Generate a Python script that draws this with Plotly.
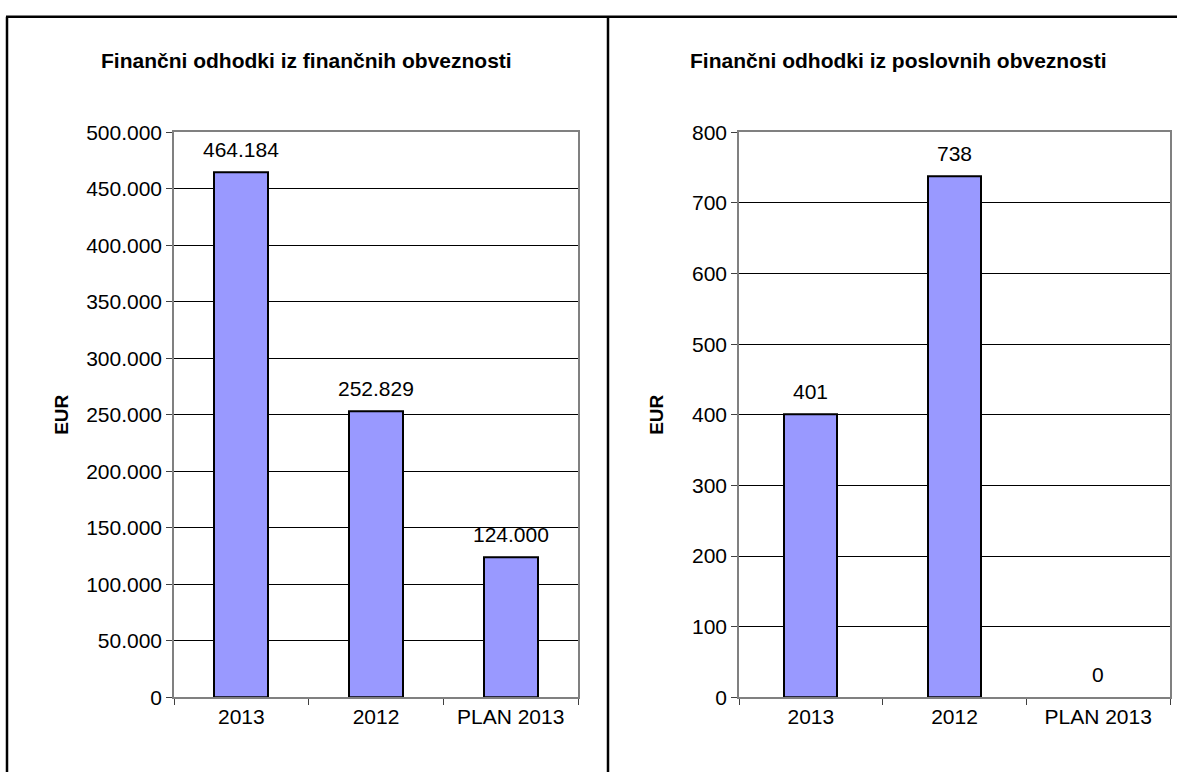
import plotly.graph_objects as go

categories = ["2013", "2012", "PLAN 2013"]
financne = [464184, 252829, 124000]
poslovne = [401, 738, 0]
title_left = "Finančni odhodki iz finančnih obveznosti"
title_right = "Finančni odhodki iz poslovnih obveznosti"
y_label = "EUR"

W, H = 1177, 783
FONT = "Liberation Sans, Arial, sans-serif"
FS = 21

def px(x):
    return x / W

def py(y):
    return 1 - y / H

def fmt(v):
    return f"{v:,.0f}".replace(",", ".")

fig = go.Figure()
for vals, xa, ya, bw in ((financne, "x", "y", 0.4), (poslovne, "x2", "y2", 0.37)):
    fig.add_trace(go.Bar(x=categories, y=vals, xaxis=xa, yaxis=ya, width=bw,
                         marker=dict(color="#9999FF",
                                     line=dict(color="black", width=[2 if v else 0 for v in vals])),
                         hoverinfo="x+y"))
    for i, v in enumerate(vals):
        fig.add_annotation(x=i, y=v, xref=xa, yref=ya, text=fmt(v), showarrow=False,
                           xanchor="center", yanchor="middle", yshift=23,
                           font=dict(size=FS, color="black", family=FONT))

common_x = dict(type="category", showline=True, linecolor="#808080", linewidth=1.5, mirror=True,
                ticks="outside", tickson="boundaries", ticklen=6, tickcolor="#404040",
                range=[-0.5, len(categories) - 0.5], autorange=False, tickangle=0,
                tickfont=dict(size=FS, color="black", family=FONT), showgrid=False)
common_y = dict(showline=True, linecolor="#808080", linewidth=1.5, mirror=True,
                ticks="outside", ticklen=6, tickcolor="#404040",
                tickfont=dict(size=FS, color="black", family=FONT),
                showgrid=True, gridcolor="black", gridwidth=1, zeroline=False)

fig.update_layout(
    width=W, height=H, margin=dict(l=0, r=0, t=0, b=0),
    paper_bgcolor="white", plot_bgcolor="white", showlegend=False,
    separators=",.", bargap=0,
    xaxis=dict(domain=[px(174), px(578)], anchor="y", **common_x),
    yaxis=dict(domain=[py(706), py(124)], anchor="x", range=[0, 500000], dtick=50000,
               tickformat=",d", **common_y),
    xaxis2=dict(domain=[px(739), px(1170)], anchor="y2", **common_x),
    yaxis2=dict(domain=[py(706), py(124)], anchor="x2", range=[0, 800], dtick=100, **common_y),
)

annos = [
    dict(text="<b>%s</b>" % title_left, x=px(306), y=py(50)),
    dict(text="<b>%s</b>" % title_right, x=px(898), y=py(50)),
]
for a in annos:
    fig.add_annotation(xref="paper", yref="paper", showarrow=False, xanchor="center", yanchor="middle",
                       font=dict(size=21, color="black", family=FONT), **a)
for xx in (62, 657):
    fig.add_annotation(xref="paper", yref="paper", showarrow=False, x=px(xx), y=py(415),
                       text="<b>%s</b>" % y_label, textangle=-90, xanchor="center", yanchor="middle",
                       font=dict(size=19, color="black", family=FONT))

line = dict(color="black", width=2.5)
fig.add_shape(type="line", xref="paper", yref="paper", x0=px(6), x1=1, y0=py(5), y1=py(5), line=line)
fig.add_shape(type="line", xref="paper", yref="paper", x0=px(7), x1=px(7), y0=py(5), y1=0, line=line)
fig.add_shape(type="line", xref="paper", yref="paper", x0=px(608), x1=px(608), y0=py(5), y1=0, line=line)

fig.write_html("out.html", config={"displayModeBar": False},
               post_script="document.body.style.margin='0';document.body.style.overflow='hidden';")
